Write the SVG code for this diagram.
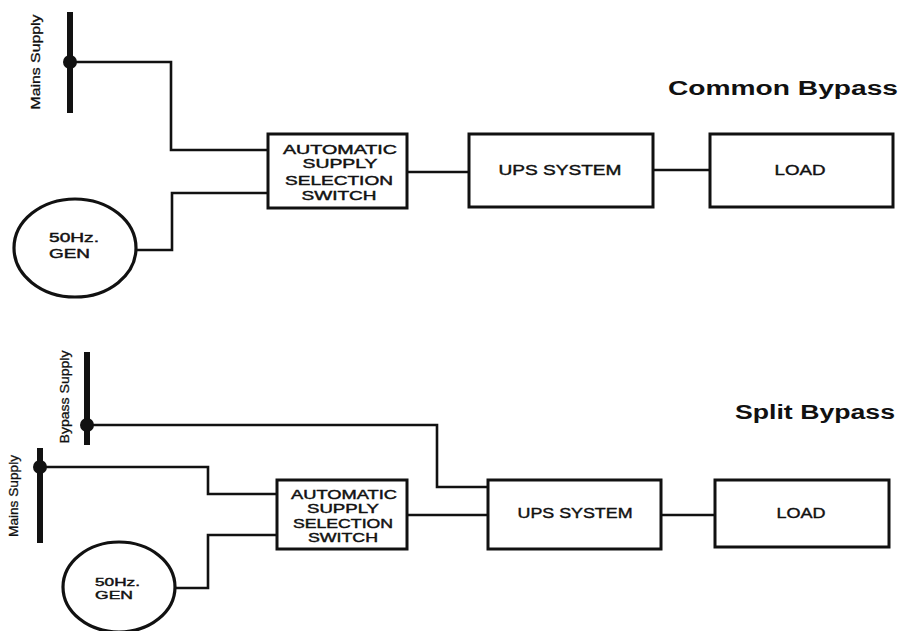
<svg xmlns="http://www.w3.org/2000/svg" width="904" height="631" viewBox="0 0 904 631">
<style>
.box{fill:#fff;stroke:#111;stroke-width:3}
.gen{fill:#fff;stroke:#111;stroke-width:3.2}
.wire{fill:none;stroke:#111;stroke-width:2.6;stroke-linejoin:miter}
.bar{stroke:#111;stroke-width:6;stroke-linecap:butt}
.dot{fill:#111}
.lbl{font-family:"Liberation Sans",Arial,sans-serif;font-size:14px;fill:#111;stroke:#111;stroke-width:0.4;text-anchor:middle}
.sm{font-size:12px}
.xs{font-size:11px}
.side{font-family:"Liberation Sans",Arial,sans-serif;font-size:13px;fill:#111;stroke:#111;stroke-width:0.3;text-anchor:middle}
.title{font-family:"Liberation Sans",Arial,sans-serif;font-size:20px;font-weight:bold;fill:#111}
</style>
<rect width="904" height="631" fill="#fff"/>

<g id="connectors">
  <path class="wire" d="M70,62 H171 V150 H268"/>
  <path class="wire" d="M137,250 H172 V193 H268"/>
  <path class="wire" d="M407,172 H469"/>
  <path class="wire" d="M653,170 H710"/>
  <path class="wire" d="M87,425 H437 V487 H488"/>
  <path class="wire" d="M40,467 H208 V494 H277"/>
  <path class="wire" d="M175,588 H208 V535 H277"/>
  <path class="wire" d="M407,515 H488"/>
  <path class="wire" d="M661,515 H715"/>
</g>

<g id="title-common"><text class="title" x="668" y="95" textLength="230" lengthAdjust="spacingAndGlyphs">Common Bypass</text></g>
<g id="title-split"><text class="title" x="735" y="419" textLength="160" lengthAdjust="spacingAndGlyphs">Split Bypass</text></g>

<g id="mains-top">
  <line class="bar" x1="70" y1="12" x2="70" y2="113"/>
  <circle class="dot" cx="70" cy="62" r="7"/>
  <text class="side" transform="translate(40,62) rotate(-90)" textLength="95" lengthAdjust="spacingAndGlyphs">Mains Supply</text>
</g>

<g id="gen-top">
  <ellipse class="gen" cx="75" cy="248" rx="61" ry="49"/>
  <text class="lbl sm" x="49" y="242" style="text-anchor:start" textLength="50" lengthAdjust="spacingAndGlyphs">50Hz.</text>
  <text class="lbl sm" x="49" y="258" style="text-anchor:start" textLength="41" lengthAdjust="spacingAndGlyphs">GEN</text>
</g>

<g id="asss-top">
  <rect class="box" x="268" y="134" width="139" height="74"/>
  <text class="lbl sm" x="340" y="154" textLength="114" lengthAdjust="spacingAndGlyphs">AUTOMATIC</text>
  <text class="lbl sm" x="340" y="168" textLength="75" lengthAdjust="spacingAndGlyphs">SUPPLY</text>
  <text class="lbl sm" x="339" y="185" textLength="108" lengthAdjust="spacingAndGlyphs">SELECTION</text>
  <text class="lbl sm" x="339" y="200" textLength="75" lengthAdjust="spacingAndGlyphs">SWITCH</text>
</g>

<g id="ups-top">
  <rect class="box" x="469" y="134" width="184" height="73"/>
  <text class="lbl" x="560" y="175" textLength="123" lengthAdjust="spacingAndGlyphs">UPS SYSTEM</text>
</g>

<g id="load-top">
  <rect class="box" x="710" y="134" width="183" height="73"/>
  <text class="lbl" x="800" y="175" textLength="51" lengthAdjust="spacingAndGlyphs">LOAD</text>
</g>

<g id="bypass-bottom">
  <line class="bar" x1="87" y1="352" x2="87" y2="445"/>
  <circle class="dot" cx="87" cy="425" r="7"/>
  <text class="side" transform="translate(69,397) rotate(-90)" textLength="93" lengthAdjust="spacingAndGlyphs">Bypass Supply</text>
</g>

<g id="mains-bottom">
  <line class="bar" x1="40" y1="448" x2="40" y2="543"/>
  <circle class="dot" cx="40" cy="467" r="7"/>
  <text class="side" transform="translate(18,496) rotate(-90)" textLength="82" lengthAdjust="spacingAndGlyphs">Mains Supply</text>
</g>

<g id="gen-bottom">
  <ellipse class="gen" cx="119" cy="587" rx="56" ry="45"/>
  <text class="lbl xs" x="95" y="586" style="text-anchor:start" textLength="45" lengthAdjust="spacingAndGlyphs">50Hz.</text>
  <text class="lbl xs" x="95" y="599" style="text-anchor:start" textLength="38" lengthAdjust="spacingAndGlyphs">GEN</text>
</g>

<g id="asss-bottom">
  <rect class="box" x="277" y="480" width="130" height="69"/>
  <text class="lbl sm" x="344" y="499" textLength="106" lengthAdjust="spacingAndGlyphs">AUTOMATIC</text>
  <text class="lbl sm" x="343" y="513" textLength="72" lengthAdjust="spacingAndGlyphs">SUPPLY</text>
  <text class="lbl sm" x="343" y="528" textLength="100" lengthAdjust="spacingAndGlyphs">SELECTION</text>
  <text class="lbl sm" x="343" y="542" textLength="70" lengthAdjust="spacingAndGlyphs">SWITCH</text>
</g>

<g id="ups-bottom">
  <rect class="box" x="488" y="480" width="173" height="69"/>
  <text class="lbl" x="575" y="518" textLength="115" lengthAdjust="spacingAndGlyphs">UPS SYSTEM</text>
</g>

<g id="load-bottom">
  <rect class="box" x="715" y="480" width="174" height="67"/>
  <text class="lbl" x="801" y="518" textLength="49" lengthAdjust="spacingAndGlyphs">LOAD</text>
</g>
</svg>
